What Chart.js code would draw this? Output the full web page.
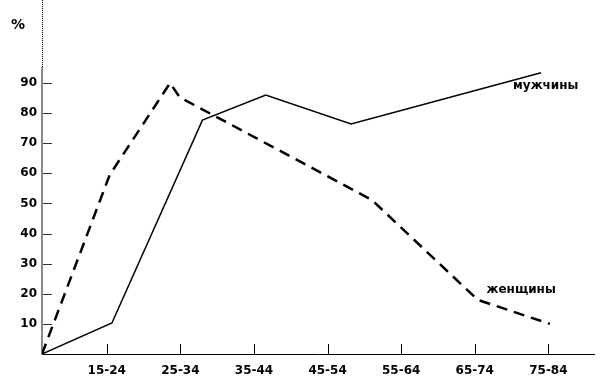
<!DOCTYPE html>
<html>
<head>
<meta charset="utf-8">
<script src="https://cdn.jsdelivr.net/npm/chart.js@4"></script>
<style>
  html, body { margin: 0; padding: 0; background: #fff; }
  #wrap { width: 609px; height: 390px; position: relative; }
</style>
</head>
<body>
<div id="wrap"><canvas id="chart"></canvas></div>
<script>
// age groups on the x axis (tick at the middle of each group)
const ageGroups = ["15-24", "25-34", "35-44", "45-54", "55-64", "65-74", "75-84"];
const ageTicks = [19.5, 29.5, 39.5, 49.5, 59.5, 69.5, 79.5];
const yTicks = [10, 20, 30, 40, 50, 60, 70, 80, 90];

// men (solid line): age, percent
const menAge = [10.7, 20.2, 32.5, 41.1, 52.7, 78.5];
const menPct = [0, 10.3, 77.7, 86, 76.4, 93.4];

// women (dashed line): age, percent
const womenAge = [10.7, 19.9, 28.1, 29.4, 55.5, 69.9, 79.7];
const womenPct = [0, 59.5, 90, 85.3, 51.2, 18, 10];

const font = "DejaVu Sans";

function pts(xs, ys) {
  return xs.map((x, i) => ({ x: x, y: ys[i] }));
}

// tick marks inside the plot, the dotted axis extension and the text labels
const decor = {
  id: "decor",
  afterDraw(chart) {
    const { ctx, chartArea } = chart;
    const xs = chart.scales.x, ys = chart.scales.y;
    ctx.save();

    // dotted extension of the y axis above the plot
    ctx.strokeStyle = "#000";
    ctx.lineWidth = 1;
    ctx.setLineDash([1, 1]);
    ctx.beginPath();
    ctx.moveTo(chartArea.left + 0.5, 0);
    ctx.lineTo(chartArea.left + 0.5, chartArea.top);
    ctx.stroke();
    ctx.setLineDash([]);

    // y tick marks
    ctx.strokeStyle = "#333";
    yTicks.forEach(v => {
      const y = Math.round(ys.getPixelForValue(v)) + 0.5;
      ctx.beginPath();
      ctx.moveTo(chartArea.left + 1, y);
      ctx.lineTo(chartArea.left + 10, y);
      ctx.stroke();
    });

    // x tick marks
    ctx.strokeStyle = "#000";
    ageTicks.forEach(a => {
      const x = Math.round(xs.getPixelForValue(a)) + 0.5;
      ctx.beginPath();
      ctx.moveTo(x, chartArea.bottom);
      ctx.lineTo(x, chartArea.bottom - 10);
      ctx.stroke();
    });

    ctx.fillStyle = "#000";
    ctx.textAlign = "left";
    ctx.textBaseline = "alphabetic";
    ctx.font = "bold 14px '" + font + "'";
    ctx.fillText("%", 11, 29);
    ctx.font = "bold 12px '" + font + "'";
    ctx.fillText("мужчины", xs.getPixelForValue(74.7), ys.getPixelForValue(88));
    ctx.fillText("женщины", xs.getPixelForValue(71.1), ys.getPixelForValue(20.3));
    ctx.restore();
  }
};

new Chart(document.getElementById("chart"), {
  type: "line",
  data: {
    datasets: [
      {
        label: "мужчины",
        data: pts(menAge, menPct),
        borderColor: "#000",
        borderWidth: 1.5,
        pointRadius: 0,
        tension: 0
      },
      {
        label: "женщины",
        data: pts(womenAge, womenPct),
        borderColor: "#000",
        borderWidth: 2.5,
        borderDash: [11, 7],
        pointRadius: 0,
        tension: 0
      }
    ]
  },
  options: {
    responsive: true,
    maintainAspectRatio: false,
    animation: false,
    layout: { padding: { top: 68, right: 15, left: 0, bottom: 0 } },
    plugins: {
      legend: { display: false },
      tooltip: { enabled: false }
    },
    scales: {
      x: {
        type: "linear",
        min: 10.7,
        max: 85.7,
        grid: { display: false, drawTicks: false },
        border: { display: true, color: "#000", width: 1 },
        afterFit: s => { s.height = 36; },
        afterBuildTicks: s => { s.ticks = ageTicks.map(v => ({ value: v })); },
        ticks: {
          padding: 10,
          autoSkip: false,
          maxRotation: 0,
          color: "#000",
          font: { family: font, size: 12, weight: "bold" },
          callback: v => ageGroups[ageTicks.indexOf(v)]
        }
      },
      y: {
        min: 0,
        max: 95,
        grid: { display: false, drawTicks: false },
        border: { display: true, color: "#888", width: 2 },
        afterFit: s => { s.width = 42; },
        afterBuildTicks: s => { s.ticks = yTicks.map(v => ({ value: v })); },
        ticks: {
          padding: 5,
          color: "#000",
          font: { family: font, size: 12, weight: "bold" }
        }
      }
    }
  },
  plugins: [decor]
});
</script>
</body>
</html>
